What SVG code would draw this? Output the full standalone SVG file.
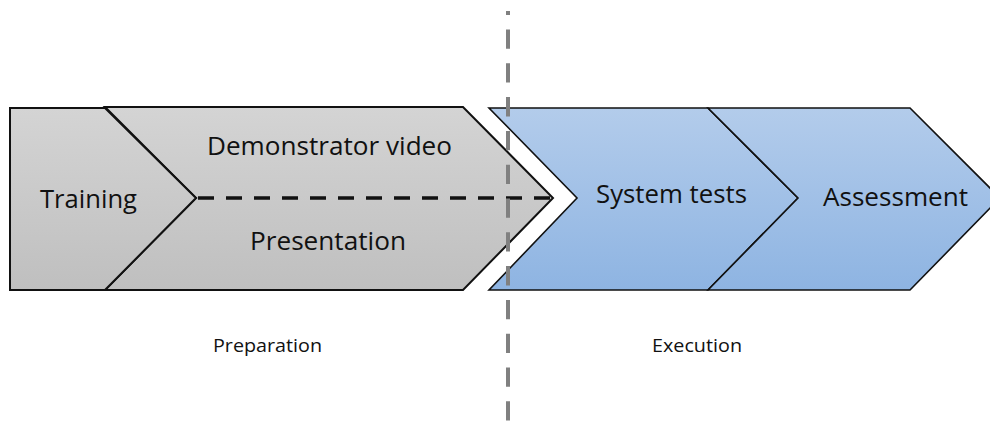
<svg xmlns="http://www.w3.org/2000/svg" width="990" height="421" viewBox="0 0 990 421">
<defs>
<linearGradient id="gGray" x1="0" y1="0" x2="0" y2="1">
<stop offset="0" stop-color="#d4d4d4"/>
<stop offset="1" stop-color="#bfbfbf"/>
</linearGradient>
<linearGradient id="gBlue" x1="0" y1="0" x2="0" y2="1">
<stop offset="0" stop-color="#b3cceb"/>
<stop offset="1" stop-color="#8eb4e2"/>
</linearGradient>
<style>
.gray{fill:url(#gGray);stroke:#111;stroke-width:2;stroke-linejoin:miter}
.blue{fill:url(#gBlue);stroke:#111;stroke-width:1.6;stroke-linejoin:miter}
.big{font-family:"Open Sans","Liberation Sans",sans-serif;font-size:25px;fill:#111;text-anchor:middle}
.small{font-family:"Open Sans","Liberation Sans",sans-serif;font-size:18px;fill:#111;text-anchor:middle}
</style>
</defs>
<rect width="990" height="421" fill="#fff"/>
<g id="preparation-block">
<g id="demonstrator">
<polygon class="gray" points="105,107 463,107 553,198 463,290 105,290 196,198"/>
<text class="big" x="329.5" y="155" textLength="245" lengthAdjust="spacingAndGlyphs">Demonstrator video</text>
<text class="big" x="328" y="250" textLength="156" lengthAdjust="spacingAndGlyphs">Presentation</text>
</g>
<g id="training">
<polygon class="gray" points="10,108 105,108 196,198 105,290 10,290"/>
<text class="big" x="88.5" y="208" textLength="97" lengthAdjust="spacingAndGlyphs">Training</text>
</g>
</g>
<g id="system-tests">
<polygon class="blue" points="489,108 708,108 798,198 708,290 489,290 577,198"/>
<text class="big" x="671.5" y="203" textLength="151" lengthAdjust="spacingAndGlyphs">System tests</text>
</g>
<g id="assessment">
<polygon class="blue" points="708,108 910,108 1000,198 910,290 708,290 798,198"/>
<text class="big" x="895.5" y="206" textLength="145" lengthAdjust="spacingAndGlyphs">Assessment</text>
</g>
<g id="labels">
<text class="small" x="267.5" y="352" textLength="109" lengthAdjust="spacingAndGlyphs">Preparation</text>
<text class="small" x="697" y="352" textLength="90" lengthAdjust="spacingAndGlyphs">Execution</text>
</g>
<g id="connectors">
<line x1="198" y1="198" x2="553" y2="198" stroke="#111" stroke-width="3.4" stroke-dasharray="16,12"/>
<line x1="508" y1="11" x2="508" y2="421" stroke="#808080" stroke-width="4" stroke-dasharray="19.3,14.5" stroke-dashoffset="15.3"/>
</g>
</svg>
